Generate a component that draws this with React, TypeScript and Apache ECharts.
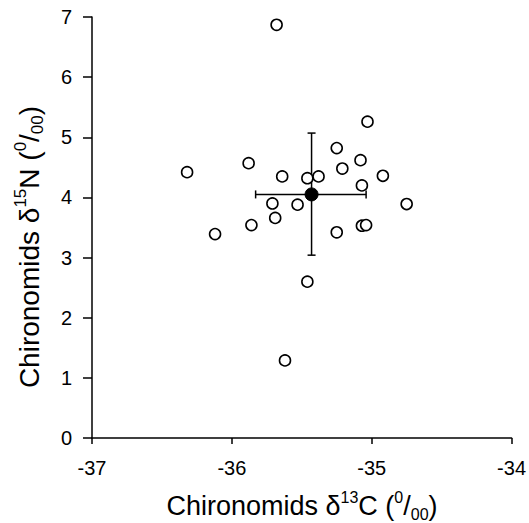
import React, { useEffect, useRef } from "react";
import * as echarts from "echarts";

const xValues = [-35.03, -35.25, -35.08, -35.21, -36.32, -35.88, -35.64, -35.46, -35.38, -34.92, -35.07, -35.71, -35.53, -34.75, -35.69, -35.86, -35.07, -35.04, -36.12, -35.25, -35.46, -35.68, -35.62];
const yValues = [5.26, 4.82, 4.62, 4.48, 4.42, 4.57, 4.35, 4.32, 4.35, 4.36, 4.2, 3.9, 3.88, 3.89, 3.66, 3.54, 3.53, 3.54, 3.39, 3.42, 2.6, 6.87, 1.29];
const meanPoint = [-35.43, 4.05];
const xError = [-35.83, -35.04];
const yError = [3.04, 5.07];
const xTicks = [-37, -36, -35, -34];
const yTicks = [0, 1, 2, 3, 4, 5, 6, 7];
const xTitle = "{t|Chironomids δ}{sup|13}{t|C (}{sup|0}{t|/}{sub|00}{t|)}";
const yTitle = "{t|Chironomids δ}{sup|15}{t|N (}{sup|0}{t|/}{sub|00}{t|)}";

export default function App() {
  const ref = useRef<HTMLDivElement>(null);
  useEffect(() => {
    if (!ref.current) return;
    const chart = echarts.init(ref.current, null, { renderer: "svg" });
    const font = "'Liberation Sans', Arial, sans-serif";
    const points = xValues.map((x, i) => [x, yValues[i]]);
    const errData = [[meanPoint[0], meanPoint[1], xError[0], xError[1], yError[0], yError[1]]];
    const rich = (size: number) => ({
      t: { fontSize: size, fontFamily: font, fill: "#000", lineHeight: size + 6 },
      sup: { fontSize: Math.round(size * 0.6), fontFamily: font, fill: "#000", verticalAlign: "top", lineHeight: size + 6, padding: [0, 0, Math.round(size * 0.42), 0] },
      sub: { fontSize: Math.round(size * 0.6), fontFamily: font, fill: "#000", verticalAlign: "bottom", lineHeight: size + 6, padding: [Math.round(size * 0.3), 0, 0, 0] },
    });
    chart.setOption({
      animation: false,
      backgroundColor: "#fff",
      grid: { left: 92, right: 17, top: 17, bottom: 85, containLabel: false },
      graphic: [
        {
          type: "text",
          x: 302,
          y: 506,
          style: { text: xTitle, rich: rich(27), align: "center", verticalAlign: "middle", fill: "#000" },
        },
        {
          type: "text",
          x: 29,
          y: 247,
          rotation: Math.PI / 2,
          style: { text: yTitle, rich: rich(28), align: "center", verticalAlign: "middle", fill: "#000" },
        },
      ],
      xAxis: {
        type: "value",
        min: xTicks[0],
        max: xTicks[xTicks.length - 1],
        interval: 1,
        splitLine: { show: false },
        axisLine: { onZero: false, lineStyle: { color: "#000", width: 1.5 } },
        axisTick: { show: true, length: 6, lineStyle: { color: "#000", width: 1.5 } },
        axisLabel: { color: "#000", fontSize: 20, fontFamily: font, margin: 20 },
      },
      yAxis: {
        type: "value",
        min: yTicks[0],
        max: yTicks[yTicks.length - 1],
        interval: 1,
        splitLine: { show: false },
        axisLine: { onZero: false, lineStyle: { color: "#000", width: 1.5 } },
        axisTick: { show: true, length: 9, lineStyle: { color: "#000", width: 1.5 } },
        axisLabel: { color: "#000", fontSize: 20, fontFamily: font, margin: 20 },
      },
      series: [
        {
          type: "custom",
          data: errData,
          z: 1,
          renderItem: (params: any, api: any) => {
            const c = api.coord([api.value(0), api.value(1)]);
            const xl = api.coord([api.value(2), api.value(1)]);
            const xr = api.coord([api.value(3), api.value(1)]);
            const yb = api.coord([api.value(0), api.value(4)]);
            const yt = api.coord([api.value(0), api.value(5)]);
            const st = { stroke: "#000", lineWidth: 1.5 };
            const cap = 4;
            return {
              type: "group",
              children: [
                { type: "line", shape: { x1: xl[0], y1: c[1], x2: xr[0], y2: c[1] }, style: st },
                { type: "line", shape: { x1: c[0], y1: yb[1], x2: c[0], y2: yt[1] }, style: st },
                { type: "line", shape: { x1: xl[0], y1: c[1] - cap, x2: xl[0], y2: c[1] + cap }, style: st },
                { type: "line", shape: { x1: xr[0], y1: c[1] - cap, x2: xr[0], y2: c[1] + cap }, style: st },
                { type: "line", shape: { x1: c[0] - cap, y1: yb[1], x2: c[0] + cap, y2: yb[1] }, style: st },
                { type: "line", shape: { x1: c[0] - cap, y1: yt[1], x2: c[0] + cap, y2: yt[1] }, style: st },
              ],
            };
          },
        },
        {
          type: "scatter",
          data: points,
          symbol: "circle",
          symbolSize: 11,
          z: 3,
          itemStyle: { color: "#fff", borderColor: "#000", borderWidth: 1.6, opacity: 1 },
        },
        {
          type: "scatter",
          data: [meanPoint],
          symbol: "circle",
          symbolSize: 13,
          z: 4,
          itemStyle: { color: "#000", borderColor: "#000", borderWidth: 1, opacity: 1 },
        },
      ],
    });
    return () => chart.dispose();
  }, []);
  return <div ref={ref} style={{ width: 529, height: 523, position: "absolute", left: 0, top: 0 }} />;
}
